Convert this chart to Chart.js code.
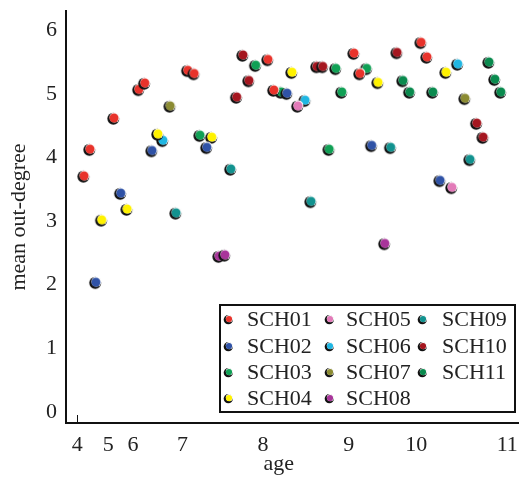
<!DOCTYPE html>
<html>
<head>
<meta charset="utf-8">
<script src="https://cdn.jsdelivr.net/npm/chart.js@4/dist/chart.umd.min.js"></script>
<style>
  html, body { margin: 0; padding: 0; background: #fff; }
  #wrap { width: 519px; height: 477px; }
</style>
</head>
<body>
<div id="wrap"><canvas id="degChart"></canvas></div>
<script>
// school labels and colours
const schools = ['SCH01', 'SCH02', 'SCH03', 'SCH04', 'SCH05', 'SCH06', 'SCH07', 'SCH08', 'SCH09', 'SCH10', 'SCH11'];
const colours = ['#e8332b', '#2f52a6', '#10a055', '#fff200', '#e27ab8', '#20b6e2', '#8b8b32', '#a8359a', '#12928f', '#a5161f', '#0a8a4e'];

// x = position along the age axis (class order), y = mean out-degree
const posSCH01 = [4.0, 5.3, 10.6, 16.1, 17.4, 26.9, 28.3, 44.6, 45.9, 63.6, 64.9, 78.4, 79.7];
const degSCH01 = [3.71, 4.13, 4.62, 5.07, 5.17, 5.37, 5.32, 5.54, 5.06, 5.64, 5.32, 5.81, 5.58];
const posSCH02 = [6.6, 12.1, 19.0, 31.1, 48.8, 67.5, 82.6];
const degSCH02 = [2.04, 3.44, 4.11, 4.16, 5.01, 4.19, 3.64];
const posSCH03 = [29.6, 41.9, 47.5, 58.1, 59.6, 60.9, 66.4];
const degSCH03 = [4.35, 5.45, 5.03, 4.13, 5.40, 5.03, 5.40];
const posSCH04 = [7.9, 13.5, 20.3, 32.2, 49.9, 68.9, 83.9];
const degSCH04 = [3.02, 3.19, 4.37, 4.32, 5.34, 5.18, 5.34];
const posSCH05 = [51.2, 85.2];
const degSCH05 = [4.81, 3.53];
const posSCH06 = [21.4, 52.8, 86.5];
const degSCH06 = [4.27, 4.90, 5.47];
const posSCH07 = [23.0, 88.1];
const degSCH07 = [4.81, 4.93];
const posSCH08 = [33.8, 35.1, 70.4];
const degSCH08 = [2.45, 2.47, 2.65];
const posSCH09 = [24.3, 36.4, 54.1, 71.7, 89.2];
const degSCH09 = [3.13, 3.82, 3.31, 4.16, 3.97];
const posSCH10 = [37.7, 39.1, 40.4, 55.4, 56.7, 73.1, 90.7, 92.1];
const degSCH10 = [4.95, 5.61, 5.21, 5.43, 5.43, 5.65, 4.54, 4.32];
const posSCH11 = [74.4, 75.9, 81.0, 93.4, 94.7, 96.0];
const degSCH11 = [5.21, 5.03, 5.03, 5.50, 5.23, 5.03];

const positions = [posSCH01, posSCH02, posSCH03, posSCH04, posSCH05, posSCH06, posSCH07, posSCH08, posSCH09, posSCH10, posSCH11];
const degrees = [degSCH01, degSCH02, degSCH03, degSCH04, degSCH05, degSCH06, degSCH07, degSCH08, degSCH09, degSCH10, degSCH11];

// age tick labels and where they sit on the x axis
const ageLabels = ['4', '5', '6', '7', '8', '9', '10', '11'];
const agePos = [2.5, 9.3, 14.8, 25.7, 43.5, 62.4, 77.3, 97.4];
const yTicks = [0, 1, 2, 3, 4, 5, 6];

const serif = "'Liberation Serif', 'DejaVu Serif', serif";

// shaded marker: black rim low-left, white glint high-right
function makeDot(colour, r) {
  const size = Math.ceil(r * 2 + 4);
  const c = document.createElement('canvas');
  c.width = size; c.height = size;
  const g = c.getContext('2d');
  const m = size / 2;
  g.fillStyle = '#111';
  g.beginPath(); g.arc(m - 0.7, m + 0.7, r, 0, Math.PI * 2); g.fill();
  g.fillStyle = '#fff';
  g.beginPath(); g.arc(m + 0.4, m - 0.4, r - 1.0, 0, Math.PI * 2); g.fill();
  g.fillStyle = colour;
  g.beginPath(); g.arc(m, m, r - 1.5, 0, Math.PI * 2); g.fill();
  return c;
}

const datasets = schools.map((name, i) => ({
  label: name,
  data: positions[i].map((x, j) => ({ x: x, y: degrees[i][j] })),
  pointStyle: makeDot(colours[i], 6),
  pointRadius: 6,
  backgroundColor: colours[i],
  showLine: false
}));

// legend laid out column by column inside a box
const boxLegend = {
  id: 'boxLegend',
  afterDraw(chart) {
    const ctx = chart.ctx;
    ctx.save();
    ctx.fillStyle = '#fff';
    ctx.fillRect(220, 305, 295, 107);
    ctx.strokeStyle = '#111';
    ctx.lineWidth = 2;
    ctx.strokeRect(220, 305, 295, 107);
    const markX = [229, 330, 423];
    const textX = [247, 346, 442];
    const rowY = [319, 346, 372, 398];
    ctx.font = '22px ' + serif;
    ctx.fillStyle = '#222';
    ctx.textBaseline = 'middle';
    schools.forEach((name, i) => {
      const col = Math.floor(i / 4), row = i % 4;
      const dot = makeDot(colours[i], 4.6);
      ctx.drawImage(dot, markX[col] - dot.width / 2, rowY[row] - dot.height / 2);
      ctx.fillText(name, textX[col], rowY[row] + 1);
    });
    // small inward tick at age 4
    const xs = chart.scales.x, ys = chart.scales.y;
    ctx.strokeStyle = '#111';
    ctx.lineWidth = 1;
    const tx = Math.round(xs.getPixelForValue(agePos[0])) + 0.5;
    ctx.beginPath();
    ctx.moveTo(tx, ys.bottom);
    ctx.lineTo(tx, ys.bottom - 8);
    ctx.stroke();
    ctx.restore();
  }
};

const ctx = document.getElementById('degChart').getContext('2d');
const degChart = new Chart(ctx, {
  type: 'scatter',
  data: { datasets: datasets },
  plugins: [boxLegend],
  options: {
    responsive: true,
    maintainAspectRatio: false,
    animation: false,
    layout: { autoPadding: false, padding: { top: 11, right: 0, left: 0, bottom: 0 } },
    plugins: {
      legend: { display: false },
      tooltip: { enabled: false }
    },
    scales: {
      x: {
        type: 'linear',
        min: 0,
        max: 100,
        grid: { display: false, drawTicks: false },
        border: { display: true, color: '#111', width: 2 },
        afterBuildTicks: axis => { axis.ticks = agePos.map(v => ({ value: v })); },
        afterFit: axis => {
          axis.height = 54;
          axis.paddingLeft = 0;
          axis.paddingRight = 0;
        },
        ticks: {
          autoSkip: false,
          maxRotation: 0,
          padding: 9,
          color: '#222',
          font: { family: serif, size: 22 },
          callback: (v, idx) => ageLabels[idx]
        },
        title: {
          display: true,
          text: 'age     ',
          color: '#222',
          padding: { top: 0, bottom: 0 },
          font: { family: serif, size: 22 }
        }
      },
      y: {
        min: -0.173,
        max: 6.3,
        grid: { display: false, drawTicks: false },
        border: { display: true, color: '#111', width: 2 },
        afterBuildTicks: axis => { axis.ticks = yTicks.map(v => ({ value: v })); },
        afterFit: axis => {
          axis.width = 66;
          axis.paddingTop = 0;
          axis.paddingBottom = 0;
        },
        ticks: {
          padding: 9,
          color: '#222',
          font: { family: serif, size: 22 }
        },
        title: {
          display: true,
          text: 'mean out-degree',
          color: '#222',
          padding: { top: 6, bottom: 0 },
          font: { family: serif, size: 22 }
        }
      }
    }
  }
});
</script>
</body>
</html>
